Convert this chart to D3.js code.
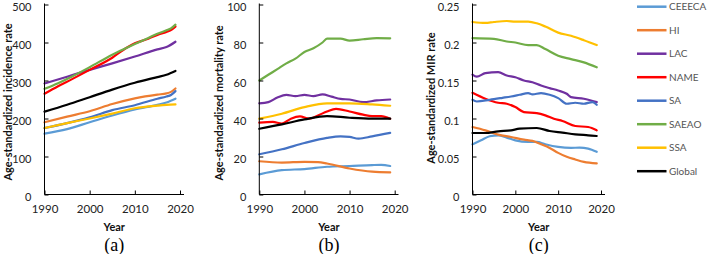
<!DOCTYPE html>
<html><head><meta charset="utf-8">
<script src="https://cdn.jsdelivr.net/npm/d3@7"></script>
<style>
html,body{margin:0;padding:0;background:#fff;}
svg{display:block;}
</style></head>
<body>
<svg id="chart" width="707" height="254"></svg>
<script>
// ---------- DATA ----------
const seriesNames = ["CEEECA","HI","LAC","NAME","SA","SAEAO","SSA","Global"];
const seriesColors = ["#5B9BD5","#ED7D31","#7030A0","#FF0000","#4472C4","#70AD47","#FFC000","#000000"];
const xTicks = [1990, 2000, 2010, 2020];

// Panel (a): incidence  [year, value]
const incCEEECA = [[1990,160],[1995,172],[2000,190],[2005,208],[2010,224],[2015,236],[2017,242],[2019,252]];
const incHI     = [[1990,190],[1995,205],[2000,219],[2005,238],[2010,253],[2015,263],[2017,266],[2018,270],[2019,279]];
const incLAC    = [[1990,292],[1995,310],[2000,328],[2005,345],[2010,363],[2015,382],[2017,388],[2019,402]];
const incNAME   = [[1990,265],[1993,285],[1996,303],[2000,328],[2005,360],[2008,385],[2010,398],[2013,410],[2015,420],[2017,428],[2018,433],[2019,442]];
const incSA     = [[1990,175],[1995,188],[2000,203],[2005,222],[2010,235],[2015,252],[2017,258],[2018,262],[2019,272]];
const incSAEAO  = [[1990,278],[1993,293],[1996,310],[2000,335],[2005,368],[2008,385],[2010,396],[2013,412],[2015,423],[2017,432],[2018,437],[2019,447]];
const incSSA    = [[1990,175],[1995,188],[2000,200],[2005,213],[2010,227],[2015,234],[2017,236],[2019,237]];
const incGlobal = [[1990,218],[1995,236],[2000,256],[2005,276],[2010,294],[2015,309],[2017,315],[2019,325]];
const incTicks = [0,100,200,300,400,500];

// Panel (b): mortality
const morCEEECA = [[1990,10.6],[1995,12.8],[2000,13.4],[2005,14.6],[2010,15.0],[2015,15.5],[2017,15.6],[2019,15.0]];
const morHI     = [[1990,17.5],[1995,16.8],[2000,17.2],[2003,17.0],[2005,16.3],[2010,13.7],[2015,12.0],[2019,11.6]];
const morLAC    = [[1990,48],[1992,48.6],[1994,51],[1996,52.4],[1998,51.8],[2000,52.4],[2002,51.8],[2004,52.7],[2006,51.5],[2008,50.3],[2010,50],[2013,48.6],[2016,49.5],[2019,50]];
const morNAME   = [[1990,37.8],[1993,38.2],[1995,37.3],[1997,39.9],[1999,41.1],[2001,39.9],[2003,41.6],[2005,43.7],[2007,45.1],[2010,43.7],[2013,42.0],[2015,41.3],[2017,41.3],[2019,39.9]];
const morSA     = [[1990,21.2],[1995,23.8],[2000,27.1],[2005,29.8],[2008,30.6],[2010,30.3],[2012,29.4],[2015,30.6],[2019,32.4]];
const morSAEAO  = [[1990,60],[1992,63],[1994,66],[1996,69],[1998,71.5],[2000,75],[2002,77],[2004,80],[2005,82],[2008,82],[2010,81],[2013,81.7],[2016,82.3],[2019,82.2]];
const morSSA    = [[1990,39.9],[1995,42.5],[2000,46],[2005,48],[2010,48],[2015,47.4],[2019,46.7]];
const morGlobal = [[1990,34.6],[1995,36.9],[2000,39.5],[2005,41.3],[2010,40.4],[2015,39.9],[2019,39.9]];
const morTicks = [0,20,40,60,80,100];

// Panel (c): MIR
const mirCEEECA = [[1990,0.0661],[1992,0.0713],[1994,0.0766],[1996,0.0779],[1998,0.0749],[2000,0.0713],[2003,0.0692],[2005,0.0692],[2007,0.0661],[2010,0.0626],[2013,0.0613],[2015,0.0617],[2017,0.0604],[2019,0.0561]];
const mirHI     = [[1990,0.0888],[1993,0.0844],[1996,0.0788],[1999,0.0757],[2002,0.0722],[2004,0.0705],[2006,0.0661],[2008,0.0613],[2010,0.0548],[2012,0.0496],[2014,0.0461],[2016,0.0430],[2019,0.0409]];
const mirLAC    = [[1990,0.1577],[1991,0.1550],[1993,0.1596],[1996,0.1610],[1998,0.1565],[2000,0.1543],[2002,0.1500],[2004,0.1477],[2006,0.1434],[2008,0.1400],[2010,0.1369],[2012,0.1325],[2013,0.1282],[2016,0.1260],[2019,0.1216]];
const mirNAME   = [[1990,0.1338],[1993,0.1260],[1996,0.1207],[1998,0.1194],[2000,0.1150],[2002,0.1085],[2005,0.1071],[2007,0.1041],[2009,0.0997],[2011,0.0967],[2014,0.0901],[2017,0.0888],[2019,0.0844]];
const mirSA     = [[1990,0.1246],[1991,0.1224],[1994,0.1246],[1997,0.1272],[1999,0.1290],[2001,0.1312],[2003,0.1334],[2004,0.1317],[2006,0.1334],[2008,0.1312],[2010,0.1268],[2012,0.1194],[2014,0.1207],[2016,0.1194],[2018,0.1216],[2019,0.1181]];
const mirSAEAO  = [[1990,0.2057],[1995,0.2048],[1998,0.2013],[2000,0.2000],[2003,0.1966],[2005,0.1966],[2007,0.1913],[2010,0.1826],[2013,0.1782],[2016,0.1738],[2019,0.1673]];
const mirSSA    = [[1990,0.2270],[1993,0.2257],[1995,0.2270],[1998,0.2283],[2000,0.2275],[2003,0.2275],[2005,0.2253],[2007,0.2210],[2010,0.2130],[2013,0.2088],[2016,0.2030],[2019,0.1966]];
const mirGlobal = [[1990,0.0809],[1993,0.0809],[1996,0.0831],[1999,0.0844],[2001,0.0866],[2005,0.0875],[2008,0.0835],[2011,0.0814],[2014,0.0792],[2017,0.0779],[2019,0.0770]];
const mirTicks = [0,0.05,0.1,0.15,0.2,0.25];
const mirTickLabels = ["0","0.05","0.1","0.15","0.2","0.25"];

// ---------- DRAW ----------
const svg = d3.select("#chart");
const SANS = "Lato, 'Open Sans', sans-serif";
const SERIF = "'Liberation Serif', 'Times New Roman', serif";
const panels = [
  {x0:44.5, x1:180, axisEnd:184, ymax:500, ticks:incTicks, labels:incTicks.map(String),
   data:[incCEEECA,incHI,incLAC,incNAME,incSA,incSAEAO,incSSA,incGlobal],
   title:"Age-standardized incidence rate", tx:7, ty:102, tag:"(a)"},
  {x0:259.3, x1:394.7, axisEnd:398.5, ymax:100, ticks:morTicks, labels:morTicks.map(String),
   data:[morCEEECA,morHI,morLAC,morNAME,morSA,morSAEAO,morSSA,morGlobal],
   title:"Age-standardized mortality rate", tx:218.5, ty:103, tag:"(b)"},
  {x0:472.5, x1:601, axisEnd:605, ymax:0.25, ticks:mirTicks, labels:mirTickLabels,
   data:[mirCEEECA,mirHI,mirLAC,mirNAME,mirSA,mirSAEAO,mirSSA,mirGlobal],
   title:"Age-standardized MIR rate", tx:430, ty:98, tag:"(c)"}
];
const yBottom = 194.5, yTop = 4.5;

panels.forEach(p => {
  const x = d3.scaleLinear().domain([1990,2020]).range([p.x0,p.x1]);
  const y = d3.scaleLinear().domain([0,p.ymax]).range([yBottom,yTop]);
  const g = svg.append("g");

  // lines
  const line = d3.line().x(d=>x(d[0])).y(d=>y(d[1])).curve(d3.curveMonotoneX);
  p.data.forEach((s,i) => {
    g.append("path").attr("d", line(s)).attr("fill","none")
      .attr("stroke", seriesColors[i]).attr("stroke-width",2.2)
      .attr("stroke-linejoin","round").attr("stroke-linecap","round");
  });

  // y axis
  const yAxis = d3.axisLeft(y).tickValues(p.ticks).tickFormat((d,i)=>p.labels[i])
      .tickSizeInner(-4).tickSizeOuter(0).tickPadding(13);
  const ya = g.append("g").attr("transform",`translate(${p.x0},0)`).call(yAxis);
  ya.attr("font-family", SANS);
  ya.select(".domain").attr("d",`M0,${yTop-1}V${yBottom}`).attr("stroke","#000").attr("stroke-width",1);
  ya.selectAll(".tick line").attr("stroke","#000");
  ya.selectAll(".tick text").attr("font-family",SANS).attr("font-size",11).attr("fill","#222")
    .attr("dy","0.5em");

  // x axis
  const xAxis = d3.axisBottom(x).tickValues(xTicks).tickFormat(d3.format("d"))
      .tickSizeInner(-4).tickSizeOuter(0).tickPadding(10);
  const xa = g.append("g").attr("transform",`translate(0,${yBottom})`).call(xAxis);
  xa.attr("font-family", SANS);
  xa.select(".domain").attr("d",`M${p.x0},0H${p.axisEnd}`).attr("stroke","#000").attr("stroke-width",1);
  xa.selectAll(".tick line").attr("stroke","#000");
  xa.selectAll(".tick text").attr("font-family",SANS).attr("font-size",11.5).attr("fill","#222");

  // titles
  g.append("text").attr("transform",`translate(${p.tx},${p.ty}) rotate(-90)`)
    .attr("text-anchor","middle").attr("dominant-baseline","central")
    .attr("font-family",SANS).attr("font-weight","bold").attr("font-size",11).attr("fill","#111")
    .text(p.title);
  const cx = (p.x0 + p.axisEnd)/2;
  g.append("text").attr("x",cx).attr("y",231).attr("text-anchor","middle")
    .attr("font-family",SANS).attr("font-weight","bold").attr("font-size",11).attr("fill","#111")
    .text("Year");
  g.append("text").attr("x",cx).attr("y",251).attr("text-anchor","middle")
    .attr("font-family",SERIF).attr("font-size",18).attr("fill","#000")
    .text(p.tag);
});

// legend
const legend = svg.append("g");
seriesNames.forEach((n,i) => {
  const yy = 6.7 + i*23.5;
  legend.append("line").attr("x1",637).attr("x2",666.5).attr("y1",yy).attr("y2",yy)
    .attr("stroke",seriesColors[i]).attr("stroke-width",2.5);
  legend.append("text").attr("x",669).attr("y",yy).attr("dy","0.36em")
    .attr("font-family",SANS).attr("font-size",10).attr("fill","#555").text(n);
});
</script>
</body></html>
